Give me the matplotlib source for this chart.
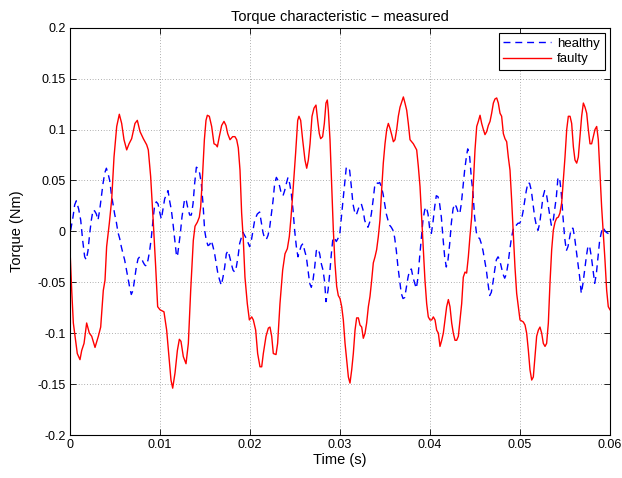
import numpy as np
import matplotlib
matplotlib.use("Agg")
import matplotlib.pyplot as plt
from matplotlib.ticker import FuncFormatter

# ---- data (time in ms, torque in Nm) ----
t_healthy_ms = [
    0.07, 0.33, 0.52, 0.70, 0.96, 1.19, 1.41, 1.63, 1.81, 2.00, 2.19, 2.37, 2.56, 2.74, 2.93,
    3.11, 3.30, 3.48, 3.67, 3.85, 4.04, 4.22, 4.41, 4.59, 4.78, 4.96, 5.15, 5.33, 5.52, 5.70,
    5.89, 6.07, 6.26, 6.44, 6.63, 6.81, 7.00, 7.19, 7.37, 7.56, 7.74, 7.93, 8.11, 8.30, 8.48,
    8.67, 8.85, 9.04, 9.22, 9.41, 9.59, 9.78, 9.96,
    10.15, 10.52, 10.89, 11.07, 11.26, 11.44, 11.63, 11.81, 11.93, 12.07, 12.26, 12.44, 12.56,
    12.74, 12.93, 13.11, 13.30, 13.48, 13.67, 13.85, 14.04, 14.22, 14.41, 14.59, 14.78, 14.96,
    15.15, 15.33, 15.52, 15.70, 15.89, 16.07, 16.26, 16.44, 16.63, 16.81, 17.00, 17.19, 17.37,
    17.56, 17.74, 17.93, 18.11, 18.30, 18.48, 18.67, 18.85, 19.04, 19.22, 19.41, 19.59,
    19.96, 20.15, 20.33, 20.52, 20.81, 21.07, 21.26, 21.44, 21.63, 21.81, 22.00, 22.19, 22.37,
    22.56, 22.74, 22.93, 23.11, 23.30, 23.48, 23.67, 23.85, 24.04, 24.22, 24.41, 24.59, 24.78,
    24.96, 25.15, 25.33, 25.52, 25.70, 25.89, 26.07, 26.26, 26.44, 26.63, 26.81, 27.00, 27.19,
    27.37, 27.56, 27.74, 27.93, 28.11, 28.30, 28.44, 28.67, 28.85, 29.04, 29.22, 29.41, 29.59,
    29.96, 30.15, 30.33, 30.52, 30.70, 30.89, 31.07, 31.26, 31.44, 31.63, 31.81, 32.00, 32.19,
    32.37, 32.56, 32.74, 32.93, 33.11, 33.30, 33.48, 33.67, 33.85, 34.04, 34.22, 34.41, 34.59,
    34.78, 34.96, 35.15, 35.33, 35.52, 35.70, 35.89, 36.07, 36.26, 36.44, 36.63, 36.81, 37.00,
    37.19, 37.37, 37.56, 37.74, 37.93, 38.11, 38.30, 38.48, 38.67, 38.85, 39.04, 39.22, 39.41,
    39.59, 39.78,
    39.96, 40.15, 40.33, 40.52, 40.70, 40.89, 41.07, 41.26, 41.44, 41.63, 41.81, 42.00, 42.19,
    42.37, 42.56, 42.74, 42.93, 43.11, 43.30, 43.48, 43.67, 43.85, 44.04, 44.19, 44.41, 44.59,
    44.78, 44.96, 45.15, 45.33, 45.52, 45.70, 45.89, 46.07, 46.26, 46.44, 46.63, 46.81, 47.00,
    47.19, 47.37, 47.56, 47.74, 47.93, 48.11, 48.30, 48.48, 48.67, 48.85, 49.04, 49.22, 49.41,
    49.59, 49.78,
    49.96, 50.15, 50.33, 50.52, 50.70, 50.89, 51.07, 51.26, 51.44, 51.63, 51.81, 52.00, 52.19,
    52.37, 52.56, 52.74, 52.93, 53.11, 53.30, 53.48, 53.67, 53.85, 54.04, 54.22, 54.41, 54.59,
    54.78, 54.96, 55.15, 55.33, 55.52, 55.70, 55.89, 56.07, 56.26, 56.44, 56.63, 56.81, 57.00,
    57.19, 57.37, 57.56, 57.74, 57.93, 58.11, 58.30, 58.48, 58.67, 58.85, 59.04, 59.22, 59.41,
    59.59, 59.78, 60.00,
]
healthy = [
    0.001, 0.014, 0.026, 0.030, 0.022, 0.011, -0.009, -0.025, -0.028, -0.019, -0.002, 0.011,
    0.021, 0.020, 0.017, 0.011, 0.021, 0.034, 0.047, 0.057, 0.062, 0.057, 0.050, 0.037, 0.027,
    0.017, 0.009, -0.001, -0.007, -0.015, -0.022, -0.028, -0.037, -0.045, -0.055, -0.062,
    -0.058, -0.046, -0.035, -0.027, -0.025, -0.026, -0.030, -0.033, -0.034, -0.028, -0.019,
    -0.006, 0.011, 0.026, 0.029, 0.027, 0.019,
    0.012, 0.032, 0.040, 0.030, 0.021, 0.008, -0.007, -0.022, -0.025, -0.015, -0.002, 0.014,
    0.021, 0.032, 0.030, 0.022, 0.016, 0.016, 0.027, 0.047, 0.063, 0.062, 0.057, 0.047, 0.027,
    0.001, -0.009, -0.014, -0.013, -0.009, -0.015, -0.022, -0.032, -0.042, -0.048, -0.053,
    -0.045, -0.035, -0.022, -0.019, -0.025, -0.032, -0.038, -0.040, -0.035, -0.025, -0.012,
    -0.006, -0.001, -0.004, -0.007,
    -0.015, -0.009, 0.001, 0.011, 0.017, 0.019, 0.009, -0.001, -0.007, -0.008, -0.004, 0.004,
    0.017, 0.030, 0.047, 0.053, 0.050, 0.044, 0.037, 0.035, 0.040, 0.047, 0.053, 0.047, 0.037,
    0.021, 0.001, -0.015, -0.025, -0.019, -0.014, -0.012, -0.019, -0.025, -0.038, -0.051,
    -0.055, -0.048, -0.035, -0.019, -0.017, -0.022, -0.032, -0.038, -0.050, -0.069, -0.058,
    -0.042, -0.022, -0.006, -0.007, -0.010,
    -0.004, 0.014, 0.030, 0.047, 0.063, 0.063, 0.060, 0.044, 0.027, 0.019, 0.016, 0.021, 0.026,
    0.027, 0.021, 0.011, 0.006, 0.004, 0.009, 0.017, 0.030, 0.044, 0.048, 0.047, 0.048, 0.044,
    0.037, 0.027, 0.017, 0.011, 0.006, 0.004, 0.001, -0.006, -0.019, -0.035, -0.048, -0.061,
    -0.066, -0.065, -0.055, -0.045, -0.038, -0.037, -0.045, -0.051, -0.056, -0.045, -0.025,
    -0.006, 0.011, 0.021, 0.024, 0.017,
    0.003, -0.002, 0.009, 0.024, 0.035, 0.034, 0.027, 0.014, -0.006, -0.025, -0.035, -0.028,
    -0.012, 0.008, 0.022, 0.027, 0.024, 0.019, 0.017, 0.027, 0.044, 0.060, 0.073, 0.081, 0.073,
    0.053, 0.037, 0.014, -0.001, -0.006, -0.007, -0.012, -0.019, -0.028, -0.038, -0.051,
    -0.063, -0.060, -0.050, -0.038, -0.028, -0.025, -0.028, -0.035, -0.042, -0.046, -0.042,
    -0.032, -0.019, -0.007, 0.001, 0.006, 0.006, 0.008,
    0.008, 0.011, 0.019, 0.030, 0.040, 0.048, 0.047, 0.040, 0.027, 0.014, 0.006, 0.001, 0.008,
    0.021, 0.034, 0.040, 0.037, 0.027, 0.017, 0.006, 0.009, 0.021, 0.034, 0.053, 0.052, 0.037,
    0.014, -0.006, -0.019, -0.015, -0.006, 0.003, 0.003, -0.006, -0.019, -0.032, -0.045,
    -0.061, -0.051, -0.038, -0.025, -0.014, -0.015, -0.025, -0.038, -0.051, -0.042, -0.025,
    -0.009, -0.001, 0.004, 0.001, -0.001, -0.002, -0.002,
]

t_faulty_ms = [
    0.00, 0.19, 0.37, 0.56, 0.81, 1.11, 1.30, 1.56, 1.85, 2.15, 2.41, 2.78, 3.15, 3.41, 3.70,
    3.89, 4.07, 4.37, 4.63, 4.89, 5.19, 5.48, 5.74, 6.00, 6.30, 6.56, 6.85, 7.22, 7.48, 7.78,
    8.15, 8.52, 8.70, 8.96, 9.26, 9.52, 9.74, 10.00, 10.44, 10.74, 11.00, 11.22, 11.41, 11.67,
    11.93, 12.15, 12.33, 12.59, 12.89, 13.15, 13.41,
    13.70, 13.89, 14.15, 14.37, 14.52, 14.74, 14.93, 15.11, 15.26, 15.48, 15.74, 16.00, 16.22,
    16.37, 16.59, 16.85, 17.11, 17.33, 17.52, 17.78, 18.07, 18.33, 18.52, 18.70, 18.89, 19.07,
    19.26, 19.44, 19.70, 19.93, 20.19, 20.37, 20.63, 20.85, 21.11, 21.30, 21.48, 21.78, 22.04,
    22.22, 22.41, 22.59, 22.89, 23.07, 23.33, 23.63, 23.89, 24.15, 24.37, 24.56, 24.81, 25.07,
    25.30, 25.44, 25.63, 25.85, 26.11, 26.30, 26.48, 26.67, 26.89, 27.11, 27.33, 27.52, 27.70,
    27.85, 28.07, 28.26, 28.44, 28.59,
    28.70, 28.89, 29.07, 29.26, 29.44, 29.63, 29.81, 30.00, 30.19, 30.37, 30.56, 30.74, 30.93,
    31.11, 31.30, 31.48, 31.67, 31.85, 32.04, 32.22, 32.41, 32.59, 32.78, 32.96, 33.15, 33.33,
    33.52, 33.70, 33.89, 34.07, 34.26, 34.44, 34.63, 34.81, 35.00, 35.19, 35.37, 35.56, 35.74,
    35.93, 36.11, 36.30, 36.48, 36.67, 36.85, 37.04, 37.22, 37.41, 37.59, 37.78, 37.96, 38.15,
    38.33, 38.52, 38.70, 38.89, 39.07, 39.26, 39.44, 39.63, 39.81, 40.00, 40.19, 40.37, 40.56,
    40.74, 40.93, 41.11, 41.30, 41.48, 41.67, 41.85, 42.04, 42.22, 42.41, 42.59, 42.78, 42.96,
    43.15, 43.33,
    43.52, 43.70, 43.89, 44.07, 44.26, 44.44, 44.63, 44.81, 45.00, 45.19, 45.37, 45.56, 45.74,
    45.93, 46.11, 46.30, 46.48, 46.67, 46.85, 47.04, 47.22, 47.41, 47.59, 47.78, 47.96, 48.15,
    48.33, 48.52, 48.70, 48.89, 49.07, 49.26, 49.44, 49.63, 49.81, 50.00, 50.19, 50.37, 50.56,
    50.74, 50.93, 51.11, 51.30, 51.48, 51.67, 51.85, 52.04, 52.22, 52.41, 52.59, 52.78, 52.96,
    53.15, 53.33, 53.52, 53.70, 53.89, 54.07, 54.26, 54.44, 54.63, 54.81, 55.00, 55.19, 55.37,
    55.56, 55.74, 55.93, 56.11, 56.30, 56.48, 56.67, 56.85, 57.04, 57.22, 57.41, 57.59, 57.78,
    57.96, 58.15, 58.33, 58.52, 58.70, 58.89, 59.07, 59.26, 59.44, 59.63, 59.81, 60.00,
]
faulty = [
    -0.018, -0.058, -0.090, -0.103, -0.120, -0.126, -0.117, -0.110, -0.090, -0.100, -0.103,
    -0.114, -0.103, -0.094, -0.058, -0.048, -0.015, 0.008, 0.031, 0.073, 0.103, 0.115, 0.106,
    0.090, 0.080, 0.086, 0.091, 0.106, 0.109, 0.098, 0.091, 0.085, 0.080, 0.054, 0.008, -0.035,
    -0.074, -0.077, -0.079, -0.097, -0.123, -0.146, -0.154, -0.139, -0.117, -0.106, -0.108,
    -0.123, -0.130, -0.110, -0.058,
    -0.009, 0.005, 0.009, 0.014, 0.024, 0.057, 0.090, 0.109, 0.114, 0.113, 0.103, 0.086, 0.085,
    0.083, 0.093, 0.104, 0.108, 0.104, 0.096, 0.090, 0.093, 0.093, 0.090, 0.082, 0.060, 0.018,
    -0.009, -0.045, -0.071, -0.087, -0.084, -0.087, -0.097, -0.120, -0.133, -0.133, -0.120,
    -0.103, -0.095, -0.094, -0.103, -0.120, -0.121, -0.110, -0.071, -0.038, -0.022, -0.017,
    -0.005, 0.014, 0.044, 0.077, 0.109, 0.113, 0.109, 0.090, 0.070, 0.062, 0.070, 0.086, 0.113,
    0.121, 0.124, 0.109, 0.096, 0.091, 0.093, 0.106, 0.126, 0.129,
    0.119, 0.090, 0.047, 0.001, -0.031, -0.054, -0.063, -0.066, -0.074, -0.087, -0.110, -0.126,
    -0.143, -0.149, -0.136, -0.120, -0.097, -0.085, -0.085, -0.092, -0.094, -0.105, -0.100,
    -0.090, -0.074, -0.064, -0.048, -0.031, -0.025, -0.018, -0.005, 0.011, 0.041, 0.067, 0.086,
    0.100, 0.106, 0.101, 0.095, 0.088, 0.090, 0.100, 0.113, 0.122, 0.127, 0.132, 0.126, 0.119,
    0.106, 0.090, 0.088, 0.086, 0.083, 0.080, 0.064, 0.044, 0.014, -0.018, -0.048, -0.071,
    -0.084, -0.087, -0.087, -0.084, -0.087, -0.097, -0.100, -0.113, -0.107, -0.100, -0.087,
    -0.074, -0.067, -0.074, -0.090, -0.100, -0.107, -0.107, -0.103, -0.087,
    -0.071, -0.045, -0.040, -0.041, -0.025, -0.005, 0.014, 0.047, 0.080, 0.103, 0.108, 0.114,
    0.106, 0.100, 0.095, 0.098, 0.104, 0.108, 0.116, 0.126, 0.130, 0.131, 0.126, 0.116, 0.113,
    0.096, 0.091, 0.088, 0.073, 0.060, 0.031, -0.002, -0.035, -0.061, -0.074, -0.087, -0.088,
    -0.089, -0.092, -0.100, -0.117, -0.136, -0.146, -0.143, -0.123, -0.103, -0.097, -0.094,
    -0.100, -0.110, -0.113, -0.110, -0.090, -0.051, -0.018, 0.001, 0.009, 0.013, 0.014, 0.018,
    0.028, 0.050, 0.073, 0.100, 0.113, 0.113, 0.106, 0.083, 0.070, 0.067, 0.073, 0.093, 0.113,
    0.126, 0.122, 0.116, 0.100, 0.086, 0.086, 0.093, 0.100, 0.103, 0.090, 0.057, 0.024, -0.002,
    -0.028, -0.058, -0.074, -0.077,
]

x_ticks = [0, 0.01, 0.02, 0.03, 0.04, 0.05, 0.06]
y_ticks = [-0.2, -0.15, -0.1, -0.05, 0, 0.05, 0.1, 0.15, 0.2]

plt.rcParams["font.family"] = ["Liberation Sans", "DejaVu Sans"]

fig = plt.figure(figsize=(6.22, 4.78), dpi=100)
ax = fig.add_axes([70 / 622, 1 - 435 / 478, 540 / 622, (435 - 27.7) / 478])

ax.plot(np.array(t_healthy_ms) / 1000, healthy, color="blue", linestyle=(0, (5, 3.5)),
        linewidth=1.0, label="healthy")
ax.plot(np.array(t_faulty_ms) / 1000, faulty, color="red", linewidth=1.0, label="faulty")

ax.set_xlim(0, 0.06)
ax.set_ylim(-0.2, 0.2)
ax.set_xticks(x_ticks)
ax.set_yticks(y_ticks)
fmt = FuncFormatter(lambda v, p: "%g" % round(v, 3))
ax.xaxis.set_major_formatter(fmt)
ax.yaxis.set_major_formatter(fmt)
ax.tick_params(direction="in", top=True, right=True, length=4, width=0.6,
               labelsize=9, pad=3)
ax.grid(True, color="black", linestyle=(0, (1, 3)), linewidth=0.5, alpha=0.6)
for s in ax.spines.values():
    s.set_linewidth(0.8)

ax.set_title("Torque characteristic \u2212 measured", fontsize=10.5, pad=5)
ax.set_xlabel("Time (s)", fontsize=10.5, labelpad=1)
ax.set_ylabel("Torque (Nm)", fontsize=10.5, labelpad=10)

leg = ax.legend(loc="upper right", fontsize=9.5, fancybox=False, framealpha=1,
                edgecolor="black", borderaxespad=0.4, handlelength=3.6,
                borderpad=0.35, labelspacing=0.25, handletextpad=0.5)
leg.get_frame().set_linewidth(0.8)

fig.savefig("out.png", dpi=100)
